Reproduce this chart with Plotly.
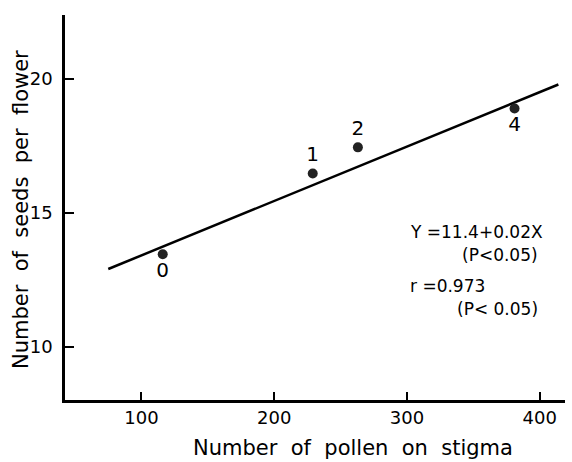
import plotly.graph_objects as go

# Data
pollen = [116, 229, 263, 381]
seeds = [13.45, 16.47, 17.45, 18.9]
point_labels = ["0", "1", "2", "4"]
label_pos = ["bottom center", "top center", "top center", "bottom center"]

line_x = [75, 414]
line_y = [12.9, 19.8]

x_ticks = [100, 200, 300, 400]
y_ticks = [10, 15, 20]

eq_text = ["Y =11.4+0.02X", "(P<0.05)", "r =0.973", "(P< 0.05)"]

x_title = "Number  of  pollen  on  stigma"
y_title = "Number  of  seeds  per  flower"

FONT = "DejaVu Sans, sans-serif"

fig = go.Figure()
fig.add_trace(go.Scatter(x=line_x, y=line_y, mode="lines",
                         line=dict(color="black", width=2.5), showlegend=False,
                         hoverinfo="skip"))
fig.add_trace(go.Scatter(x=pollen, y=seeds, mode="markers+text",
                         marker=dict(color="#222", size=10),
                         text=point_labels, textposition=label_pos,
                         textfont=dict(family=FONT, size=20, color="black"),
                         showlegend=False))

# equation block
eq_pos = [(301, 14.27, "left"), (400, 13.41, "right"),
          (301, 12.28, "left"), (400, 11.42, "right")]
for t, (xx, yy, anc) in zip(eq_text, eq_pos):
    fig.add_annotation(x=xx, y=yy, text=t, showarrow=False, xanchor=anc,
                       font=dict(family=FONT, size=17, color="black"))

# axis titles
fig.add_annotation(xref="paper", yref="paper", x=0.576, y=0, yshift=-48,
                   xanchor="center", yanchor="middle", text=x_title,
                   showarrow=False, font=dict(family=FONT, size=21, color="black"))
fig.add_annotation(xref="paper", yref="paper", x=0, xshift=-44, y=0.4935,
                   xanchor="center", yanchor="middle", text=y_title, textangle=-90,
                   showarrow=False, font=dict(family=FONT, size=21, color="black"))

fig.update_layout(
    width=572, height=462,
    margin=dict(l=65, r=7, t=15, b=62),
    paper_bgcolor="white", plot_bgcolor="white",
    font=dict(family=FONT, color="black"),
)
fig.update_xaxes(range=[42.4, 419], tickvals=x_ticks, ticks="inside", ticklen=8,
                 tickwidth=2, tickcolor="black", showline=True, linecolor="black",
                 linewidth=2.5, showgrid=False, zeroline=False,
                 tickfont=dict(family=FONT, size=18))
fig.update_yaxes(range=[8, 22.4], tickvals=y_ticks, ticks="inside", ticklen=9,
                 tickwidth=2, tickcolor="black", showline=True, linecolor="black",
                 linewidth=2.5, showgrid=False, zeroline=False,
                 tickfont=dict(family=FONT, size=18), ticklabelstandoff=6)

fig.write_html("out.html")
